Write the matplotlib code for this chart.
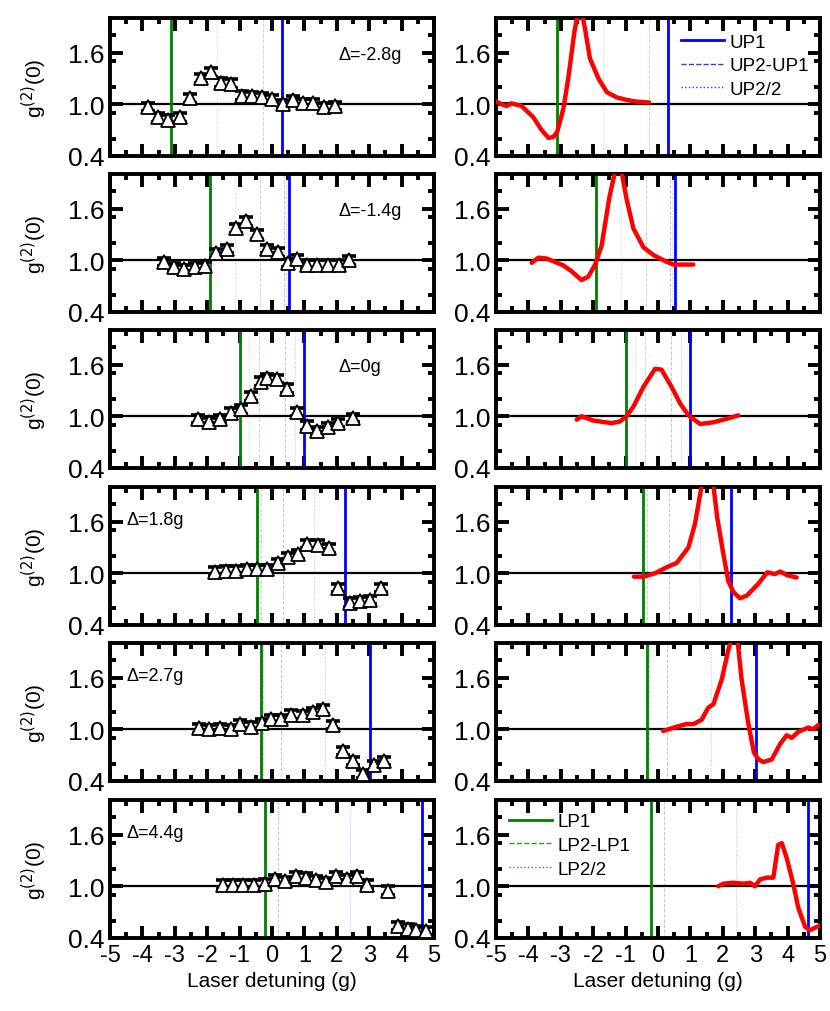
import matplotlib
matplotlib.use("Agg")
import matplotlib.pyplot as plt
from matplotlib.ticker import MultipleLocator
import numpy as np

plt.rcParams['font.family'] = ['Liberation Sans', 'DejaVu Sans']

deltas = ["-2.8", "-1.4", "0", "1.8", "2.7", "4.4"]

# vertical marker positions (laser detuning, units of g)
lp1 = [-3.12, -1.92, -1.00, -0.45, -0.33, -0.22]
up1 = [0.32, 0.52, 1.00, 2.25, 3.03, 4.62]
lp2_lp1 = [-0.27, -0.36, -0.41, -0.33, -0.28, -0.20]
lp2_half = [-1.70, -1.14, -0.71, -0.39, -0.30, -0.21]
up2_up1 = [0.27, 0.36, 0.41, 0.33, 0.28, 0.20]
up2_half = [0.30, 0.44, 0.71, 1.29, 1.65, 2.41]

# left column: measured g2 points
exp_x = [
    [-3.82, -3.51, -3.20, -2.84, -2.53, -2.20, -1.89, -1.58, -1.28, -0.94, -0.63, -0.32, -0.01, 0.33, 0.66, 0.97, 1.28, 1.60, 1.94],
    [-3.33, -3.02, -2.72, -2.38, -2.07, -1.73, -1.40, -1.12, -0.80, -0.47, -0.14, 0.17, 0.50, 0.78, 1.09, 1.40, 1.74, 2.08, 2.39],
    [-2.27, -1.93, -1.60, -1.28, -0.97, -0.66, -0.35, -0.16, 0.16, 0.47, 0.78, 1.09, 1.40, 1.74, 2.05, 2.51],
    [-1.76, -1.43, -1.11, -0.78, -0.45, -0.14, 0.17, 0.50, 0.81, 1.09, 1.43, 1.77, 2.05, 2.41, 2.72, 3.02, 3.35],
    [-2.24, -1.93, -1.60, -1.28, -0.99, -0.66, -0.32, -0.02, 0.29, 0.60, 0.95, 1.26, 1.58, 1.89, 2.18, 2.51, 2.82, 3.16, 3.46],
    [-1.52, -1.21, -0.88, -0.56, -0.22, 0.09, 0.40, 0.74, 1.05, 1.36, 1.67, 1.98, 2.30, 2.61, 2.94, 3.59, 3.90, 4.21, 4.44, 4.75],
]
exp_y = [
    [0.97, 0.85, 0.82, 0.85, 1.07, 1.30, 1.37, 1.25, 1.24, 1.10, 1.09, 1.08, 1.06, 1.00, 1.05, 1.01, 1.01, 0.97, 0.98],
    [0.98, 0.92, 0.90, 0.92, 0.93, 1.08, 1.13, 1.37, 1.45, 1.30, 1.13, 1.09, 0.97, 1.01, 0.95, 0.95, 0.95, 0.95, 1.00],
    [0.97, 0.93, 0.97, 1.04, 1.08, 1.23, 1.40, 1.44, 1.43, 1.32, 1.05, 0.89, 0.83, 0.87, 0.92, 0.98],
    [1.02, 1.03, 1.03, 1.05, 1.05, 1.05, 1.12, 1.19, 1.22, 1.34, 1.33, 1.29, 0.83, 0.66, 0.68, 0.69, 0.83],
    [1.01, 1.00, 1.01, 1.00, 1.06, 1.03, 1.07, 1.12, 1.12, 1.17, 1.16, 1.20, 1.23, 1.05, 0.75, 0.63, 0.48, 0.58, 0.63],
    [1.02, 1.02, 1.02, 1.02, 1.03, 1.08, 1.06, 1.12, 1.10, 1.07, 1.05, 1.12, 1.08, 1.12, 1.02, 0.95, 0.54, 0.51, 0.49, 0.48],
]
exp_err = 0.05

# right column: simulated g2 curves
sim_x = [
    [-4.98, -4.83, -4.67, -4.52, -4.21, -3.85, -3.59, -3.38, -3.23, -3.11, -2.92, -2.77, -2.58, -2.45, -2.36, -2.25, -2.10, -1.84, -1.58, -1.28, -0.97, -0.66, -0.27],
    [-3.90, -3.69, -3.44, -2.92, -2.66, -2.36, -2.15, -1.94, -1.74, -1.50, -1.33, -1.22, -1.12, -0.97, -0.76, -0.45, -0.14, 0.22, 0.47, 1.09],
    [-2.51, -2.36, -2.00, -1.43, -1.17, -0.97, -0.76, -0.45, -0.09, 0.11, 0.42, 0.68, 0.94, 1.30, 1.71, 2.12, 2.48],
    [-0.74, -0.45, -0.09, 0.27, 0.58, 0.94, 1.14, 1.35, 1.52, 1.71, 1.83, 2.00, 2.17, 2.33, 2.53, 2.74, 3.10, 3.37, 3.61, 3.77, 3.97, 4.28],
    [0.16, 0.58, 0.88, 1.09, 1.35, 1.55, 1.71, 1.97, 2.17, 2.31, 2.45, 2.58, 2.79, 2.96, 3.10, 3.25, 3.51, 3.77, 3.97, 4.13, 4.33, 4.64, 4.79, 4.95],
    [1.86, 2.02, 2.33, 2.63, 2.84, 2.99, 3.15, 3.36, 3.56, 3.71, 3.82, 3.97, 4.18, 4.33, 4.54, 4.69, 4.85, 4.98],
]
sim_y = [
    [1.03, 1.00, 0.98, 1.01, 0.98, 0.85, 0.70, 0.61, 0.62, 0.68, 0.95, 1.30, 1.84, 2.10, 2.08, 1.87, 1.53, 1.30, 1.14, 1.08, 1.05, 1.03, 1.02],
    [0.97, 1.03, 1.02, 0.94, 0.87, 0.77, 0.81, 0.95, 1.17, 1.73, 2.02, 2.10, 2.02, 1.71, 1.37, 1.15, 1.06, 0.99, 0.95, 0.95],
    [0.96, 1.00, 0.95, 0.92, 0.94, 1.00, 1.11, 1.34, 1.55, 1.54, 1.34, 1.15, 1.01, 0.91, 0.93, 0.97, 1.01],
    [0.96, 0.96, 1.00, 1.07, 1.12, 1.30, 1.57, 2.02, 2.15, 2.02, 1.64, 1.26, 0.91, 0.78, 0.71, 0.74, 0.88, 1.01, 0.99, 1.02, 0.98, 0.95],
    [0.98, 1.03, 1.06, 1.06, 1.11, 1.25, 1.29, 1.58, 1.92, 2.10, 2.05, 1.58, 1.06, 0.73, 0.65, 0.62, 0.65, 0.83, 0.93, 0.90, 0.97, 1.02, 1.00, 1.05],
    [1.00, 1.03, 1.04, 1.03, 1.04, 1.00, 1.08, 1.10, 1.10, 1.48, 1.50, 1.33, 1.02, 0.75, 0.53, 0.49, 0.52, 0.54],
]

xticks = [-5, -4, -3, -2, -1, 0, 1, 2, 3, 4, 5]
yticks = [0.4, 1.0, 1.6]

W, H = 830, 1012
fig = plt.figure(figsize=(W / 100, H / 100), dpi=100)

tops = [19, 175, 331, 488, 644, 801]
ph = 138
lefts = [110, 496]
pw = 324

green = "#008000"
blue = "#0000ff"

def style_axes(ax, bottom_row):
    ax.set_xlim(-5, 5)
    ax.set_ylim(0.4, 2.0)
    ax.xaxis.set_major_locator(MultipleLocator(1))
    ax.xaxis.set_minor_locator(MultipleLocator(0.5))
    ax.set_yticks(yticks)
    ax.yaxis.set_minor_locator(MultipleLocator(0.3))
    ax.tick_params(which='both', direction='in', top=True, right=True)
    ax.tick_params(axis='y', labelsize=19)
    ax.tick_params(axis='x', labelsize=17)
    ax.tick_params(which='major', length=9, width=2.8, pad=4)
    ax.tick_params(which='minor', length=4.5, width=2.8)
    for s in ax.spines.values():
        s.set_linewidth(2.8)
    if bottom_row:
        ax.set_xticks(xticks)
        ax.set_xticklabels([str(t) for t in xticks])
        ax.set_xlabel("Laser detuning (g)", fontsize=15, labelpad=4)
    else:
        ax.set_xticklabels([])

for r in range(6):
    bottom = 1 - (tops[r] + ph) / H
    for c in range(2):
        ax = fig.add_axes([lefts[c] / W, bottom, pw / W, ph / H])
        style_axes(ax, r == 5)
        ax.axhline(1.0, color='black', lw=1.6, zorder=1)
        # faint lines
        faint = dict(lw=0.7, alpha=0.25, zorder=1)
        l_d = ax.axvline(lp2_lp1[r], color=green, ls='--', label="LP2-LP1", **faint)
        l_o = ax.axvline(lp2_half[r], color=green, ls=':', label="LP2/2", **faint)
        u_d = ax.axvline(up2_up1[r], color=blue, ls='--', label="UP2-UP1", **faint)
        u_o = ax.axvline(up2_half[r], color=blue, ls=':', label="UP2/2", **faint)
        l1 = ax.axvline(lp1[r], color=green, lw=2.0, zorder=2, label="LP1")
        u1 = ax.axvline(up1[r], color=blue, lw=2.0, zorder=2, label="UP1")
        if c == 0:
            ax.errorbar(exp_x[r], exp_y[r], yerr=exp_err, fmt='none',
                        ecolor='black', elinewidth=1.5, capsize=5,
                        capthick=2.6, zorder=4)
            ax.plot(exp_x[r], exp_y[r], '^', ms=9.5, mfc='white', mec='black',
                    mew=1.3, zorder=5, linestyle='none')
            ax.set_ylabel("g$^{(2)}$(0)", fontsize=15, labelpad=14)
            txt = "\u0394=" + deltas[r] + "g"
            if r < 3:
                ax.text(0.705, 0.70, txt, transform=ax.transAxes, fontsize=13)
            else:
                ax.text(0.05, 0.73, txt, transform=ax.transAxes, fontsize=13)
        else:
            ax.plot(sim_x[r], sim_y[r], color='red', lw=3.2, zorder=4,
                    solid_capstyle='round', solid_joinstyle='round')
            leg_kw = dict(frameon=False, fontsize=13.5, handlelength=2.3,
                          labelspacing=0.35, handletextpad=0.3)
            if r == 0:
                lg = ax.legend(handles=[u1, u_d, u_o], loc='upper right',
                               bbox_to_anchor=(1.0, 0.97), borderaxespad=0.2,
                               **leg_kw)
            if r == 5:
                lg = ax.legend(handles=[l1, l_d, l_o], loc='upper left',
                               bbox_to_anchor=(0.0, 1.0), borderaxespad=0.3,
                               **leg_kw)
            if r in (0, 5):
                for h in lg.legend_handles:
                    if h.get_linewidth() < 1.5:
                        h.set_alpha(0.8)
                        h.set_linewidth(1.0)
                    else:
                        h.set_alpha(1.0)

fig.savefig("out.png", dpi=100)
